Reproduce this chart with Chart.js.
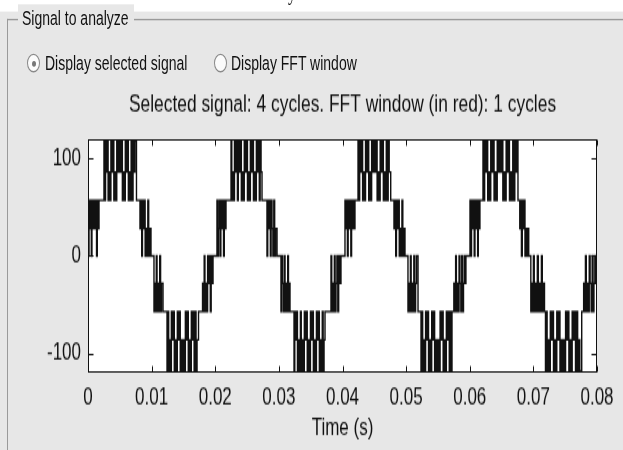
<!DOCTYPE html>
<html>
<head>
<meta charset="utf-8">
<title>Signal to analyze</title>
<script src="https://cdn.jsdelivr.net/npm/chart.js@4.4.1/dist/chart.umd.min.js"></script>
<style>
  html, body { margin: 0; padding: 0; background: #fff; width: 623px; height: 450px; overflow: hidden; }
  /* the screenshot is stretched vertically, so the whole panel is drawn flat and scaled */
  #page { position: absolute; left: 0; top: 0; width: 623px; height: 311px;
          transform: scaleY(1.45); transform-origin: 0 0;
          font-family: Arial, "Liberation Sans", sans-serif; color: #111; }
  #panel { position: absolute; left: 0; top: 8.3px; width: 623px; height: 303px; background: #e7e7e7; }
  .abs { position: absolute; white-space: nowrap; }
  #edgeTop1 { left: 7px; top: 13.3px; width: 11px; border-top: 1px solid #9a9a9a; }
  #edgeTop2 { left: 134px; top: 13.3px; width: 489px; border-top: 1px solid #9a9a9a; }
  #edgeLeft { left: 7px; top: 13.3px; height: 300px; border-left: 1px solid #9a9a9a; }
  #labelBox { left: 18px; top: 2.8px; width: 116px; height: 14px; background: #e7e7e7; }
  #label { left: 22px; top: 2.7px; font-size: 14px; line-height: 18px; }
  .radio { width: 11px; height: 11px; border: 1px solid #8a8a8a; border-radius: 50%; background: #fbfbfb; }
  .dot { left: 3.5px; top: 3.5px; width: 4px; height: 4px; border-radius: 50%; background: #777; }
  .rtext { top: 34.4px; font-size: 14px; line-height: 18px; }
  #cut { left: 288px; top: -12.8px; font: 16px "Liberation Serif", "Times New Roman", serif; line-height: 16px; }
  #chartBox { left: 0; top: 50px; width: 623px; height: 260px; }
</style>
</head>
<body>
<div id="page">
  <div class="abs" id="cut">y</div>
  <div id="panel"></div>
  <div class="abs" id="edgeTop1"></div>
  <div class="abs" id="edgeTop2"></div>
  <div class="abs" id="edgeLeft"></div>
  <div class="abs" id="labelBox"></div>
  <div class="abs" id="label">Signal to analyze</div>

  <div class="abs radio" style="left:27px; top:37.4px;"><div class="abs dot"></div></div>
  <div class="abs rtext" style="left:45px;">Display selected signal</div>
  <div class="abs radio" style="left:214px; top:37.4px;"></div>
  <div class="abs rtext" style="left:231px;">Display FFT window</div>

  <div class="abs" id="chartBox"><canvas id="signal" width="623" height="260"></canvas></div>
</div>

<script>
// tick values and labels
var timeTickValues = [0, 0.01, 0.02, 0.03, 0.04, 0.05, 0.06, 0.07, 0.08];
var timeTickLabels = ['0', '0.01', '0.02', '0.03', '0.04', '0.05', '0.06', '0.07', '0.08'];
var voltTickValues = [-100, 0, 100];
var voltTickLabels = ['-100', '0', '100'];
var titleText = 'Selected signal: 4 cycles. FFT window (in red): 1 cycles';

// switching instants: [time in ms, level after the switch]
var cycle1 = [
  [0, 0], [0.16, 57], [0.28, 28], [0.40, 57], [0.52, 0], [0.62, 57], [0.76, 28], [0.90, 57], [1.04, 28], [1.18, 57], [1.34, 0], [1.46, 57], [1.60, 28], [1.73, 57],
  [2.51, 118], [2.62, 57], [2.76, 118], [2.90, 86], [3.02, 118], [3.16, 57], [3.30, 86], [3.46, 57], [3.60, 118], [3.76, 86], [3.92, 118], [4.06, 57], [4.20, 86], [4.38, 57], [4.52, 118], [4.70, 86], [4.88, 118], [5.06, 86], [5.24, 118], [5.40, 57], [5.56, 86], [5.72, 57], [5.86, 118], [6.02, 86], [6.18, 118], [6.34, 57], [6.48, 86], [6.64, 57], [6.78, 118], [6.94, 57], [7.08, 118], [7.24, 86], [7.38, 118], [7.62, 57],
  [8.17, 28], [8.30, 57], [8.44, 0], [8.56, 57], [8.70, 28], [8.84, 57], [8.98, 0], [9.12, 28], [9.26, 0], [9.40, 57], [9.54, 0], [9.68, 28], [9.90, 0],
  [10.37, -57], [10.49, -28], [10.61, -57], [10.73, 0], [10.85, -57], [10.99, -28], [11.13, -57], [11.27, 0], [11.41, -57], [11.55, -28], [11.79, -57],
  [12.42, -118], [12.54, -57], [12.68, -118], [12.82, -86], [12.96, -118], [13.10, -57], [13.26, -86], [13.42, -57], [13.56, -118], [13.72, -86], [13.88, -118], [14.04, -57], [14.18, -86], [14.34, -57], [14.50, -118], [14.66, -86], [14.82, -118], [14.98, -86], [15.14, -118], [15.30, -57], [15.46, -86], [15.62, -57], [15.76, -118], [15.92, -86], [16.08, -118], [16.24, -57], [16.38, -86], [16.54, -57], [16.68, -118], [16.84, -57], [16.98, -118], [17.14, -86], [17.37, -57],
  [18.00, -28], [18.12, -57], [18.26, 0], [18.38, -57], [18.52, -28], [18.66, -57], [18.80, 0], [18.94, -28], [19.08, 0], [19.22, -57], [19.36, 0], [19.50, -28], [19.65, 0]
];
var cycle2 = [
  [20.27, 57], [20.39, 0], [20.50, 28], [20.62, 57], [20.76, 0], [20.88, 57], [21.02, 28], [21.16, 57], [21.30, 0], [21.42, 57], [21.56, 28], [21.69, 57],
  [22.48, 118], [22.60, 57], [22.74, 86], [22.88, 57], [23.02, 118], [23.18, 86], [23.34, 118], [23.48, 57], [23.62, 118], [23.78, 86], [23.94, 118], [24.10, 57], [24.24, 86], [24.40, 57], [24.56, 118], [24.72, 86], [24.90, 118], [25.06, 57], [25.20, 86], [25.36, 57], [25.52, 118], [25.68, 86], [25.84, 118], [26.00, 57], [26.14, 86], [26.30, 57], [26.46, 118], [26.62, 86], [26.78, 118], [26.92, 57], [27.06, 118], [27.20, 86], [27.35, 57],
  [28.13, 0], [28.25, 57], [28.38, 28], [28.52, 57], [28.66, 0], [28.78, 57], [28.92, 28], [29.06, 0], [29.20, 57], [29.34, 0], [29.48, 28], [29.71, 0],
  [30.33, -57], [30.45, 0], [30.57, -28], [30.71, -57], [30.85, 0], [30.97, -57], [31.11, -28], [31.25, -57], [31.39, 0], [31.51, -57], [31.63, -28], [31.75, -57],
  [32.38, -118], [32.50, -57], [32.64, -86], [32.78, -57], [32.92, -118], [33.08, -86], [33.24, -118], [33.38, -57], [33.52, -118], [33.68, -86], [33.84, -118], [34.00, -57], [34.14, -86], [34.30, -57], [34.46, -118], [34.62, -86], [34.80, -118], [34.96, -57], [35.10, -86], [35.26, -57], [35.42, -118], [35.58, -86], [35.74, -118], [35.90, -57], [36.04, -86], [36.20, -57], [36.36, -118], [36.52, -86], [36.68, -118], [36.82, -57], [36.96, -118], [37.10, -86], [37.25, -57],
  [38.19, 0], [38.31, -57], [38.44, -28], [38.58, -57], [38.72, 0], [38.84, -57], [38.98, -28], [39.12, 0], [39.26, -57], [39.40, 0], [39.54, -28], [39.76, 0]
];
var cycle3 = [
  [40.39, 57], [40.51, 28], [40.63, 57], [40.77, 0], [40.89, 57], [41.03, 28], [41.17, 57], [41.31, 0], [41.43, 57], [41.57, 28], [41.71, 57], [41.84, 28], [41.96, 57],
  [42.44, 118], [42.56, 57], [42.70, 118], [42.86, 86], [43.02, 118], [43.16, 57], [43.30, 86], [43.46, 57], [43.62, 118], [43.78, 86], [43.96, 118], [44.12, 57], [44.26, 86], [44.42, 57], [44.58, 118], [44.76, 86], [44.94, 118], [45.10, 86], [45.28, 118], [45.44, 57], [45.60, 86], [45.76, 57], [45.92, 118], [46.08, 86], [46.26, 118], [46.42, 57], [46.56, 86], [46.72, 57], [46.88, 118], [47.04, 57], [47.18, 118], [47.34, 86], [47.58, 57],
  [48.09, 28], [48.22, 57], [48.36, 0], [48.48, 57], [48.62, 28], [48.78, 57], [48.92, 0], [49.06, 28], [49.20, 0], [49.34, 57], [49.48, 0], [49.62, 28], [49.82, 0],
  [50.29, -57], [50.41, -28], [50.53, -57], [50.67, 0], [50.79, -57], [50.93, -28], [51.07, -57], [51.21, 0], [51.35, -57], [51.49, -28], [51.63, 0], [51.87, -57],
  [52.34, -118], [52.46, -57], [52.60, -118], [52.76, -86], [52.92, -118], [53.06, -57], [53.20, -86], [53.36, -57], [53.52, -118], [53.68, -86], [53.86, -118], [54.02, -57], [54.16, -86], [54.32, -57], [54.48, -118], [54.66, -86], [54.84, -118], [55.00, -86], [55.18, -118], [55.34, -57], [55.50, -86], [55.66, -57], [55.82, -118], [55.98, -86], [56.16, -118], [56.32, -57], [56.46, -86], [56.62, -57], [56.78, -118], [56.94, -57], [57.08, -118], [57.21, -57],
  [57.50, -28], [57.64, -57], [57.78, 0], [57.90, -57], [58.04, -28], [58.18, -57], [58.32, 0], [58.46, -28], [58.60, -57], [58.74, 0], [58.88, -57], [59.02, -28], [59.16, 0], [59.28, -28], [59.40, 0]
];
var cycle4 = [
  [60.04, 57], [60.16, 0], [60.28, 57], [60.42, 28], [60.56, 57], [60.70, 0], [60.82, 57], [60.96, 28], [61.10, 57], [61.24, 0], [61.34, 57], [61.45, 28], [61.60, 57],
  [62.08, 118], [62.20, 57], [62.34, 118], [62.50, 86], [62.66, 118], [62.82, 57], [62.98, 86], [63.14, 57], [63.30, 118], [63.48, 86], [63.66, 118], [63.82, 57], [63.98, 86], [64.14, 57], [64.32, 118], [64.50, 86], [64.68, 118], [64.86, 86], [65.04, 118], [65.20, 57], [65.38, 86], [65.54, 57], [65.72, 118], [65.90, 86], [66.08, 118], [66.24, 57], [66.40, 86], [66.58, 57], [66.76, 118], [66.92, 57], [67.08, 118], [67.26, 86], [67.42, 118], [67.58, 57],
  [67.86, 28], [67.98, 57], [68.12, 0], [68.26, 57], [68.40, 28], [68.54, 57], [68.68, 0], [68.82, 28], [68.96, 0], [69.10, 28], [69.27, 0],
  [69.60, -57], [69.72, -28], [69.86, -57], [70.00, 0], [70.14, -57], [70.30, -28], [70.46, -57], [70.62, 0], [70.78, -57], [70.94, -28], [71.10, -57], [71.26, 0], [71.40, -57], [71.60, -28], [71.75, -57],
  [71.90, -118], [72.02, -57], [72.16, -118], [72.32, -86], [72.50, -118], [72.66, -57], [72.82, -86], [72.98, -57], [73.16, -118], [73.34, -86], [73.52, -118], [73.68, -57], [73.84, -86], [74.00, -57], [74.18, -118], [74.36, -86], [74.54, -118], [74.72, -86], [74.90, -118], [75.06, -57], [75.24, -86], [75.40, -57], [75.58, -118], [75.76, -86], [75.94, -118], [76.10, -57], [76.26, -86], [76.44, -57], [76.62, -118], [76.80, -57], [76.96, -118], [77.14, -86], [77.30, -118], [77.60, -57],
  [77.90, -28], [78.04, -57], [78.18, 0], [78.32, -57], [78.46, -28], [78.62, -57], [78.78, 0], [78.92, -28], [79.08, -57], [79.24, 0], [79.38, -57], [79.52, -28], [79.66, 0], [79.80, -28], [80, 0]
];

var fontFamily = 'Arial, "Liberation Sans", sans-serif';

// white plot box, black frame and MATLAB style inward ticks
var axesFrame = {
  id: 'axesFrame',
  beforeDatasetsDraw: function (chart) {
    var a = chart.chartArea, ctx = chart.ctx;
    ctx.save();
    ctx.fillStyle = '#fff';
    ctx.fillRect(a.left, a.top, a.right - a.left, a.bottom - a.top);
    ctx.restore();
  },
  afterDatasetsDraw: function (chart) {
    var a = chart.chartArea, ctx = chart.ctx, x = chart.scales.x, y = chart.scales.y;
    var l = Math.round(a.left) + 0.5, r = Math.round(a.right) - 0.5, t = Math.round(a.top) + 0.5, b = Math.round(a.bottom) - 0.5;
    ctx.save();
    ctx.strokeStyle = '#111';
    ctx.lineWidth = 1;
    ctx.strokeRect(l, t, r - l, b - t);
    ctx.beginPath();
    timeTickValues.forEach(function (v) {
      var px = Math.round(x.getPixelForValue(v)) + 0.5;
      ctx.moveTo(px, b); ctx.lineTo(px, b - 4);
      ctx.moveTo(px, t); ctx.lineTo(px, t + 4);
    });
    voltTickValues.forEach(function (v) {
      var py = Math.round(y.getPixelForValue(v)) + 0.5;
      ctx.moveTo(l, py); ctx.lineTo(l + 5, py);
      ctx.moveTo(r, py); ctx.lineTo(r - 5, py);
    });
    ctx.stroke();
    ctx.restore();
  }
};

var points = cycle1.concat(cycle2, cycle3, cycle4).map(function (p) {
  return { x: p[0] / 1000, y: p[1] };
});

var ctx = document.getElementById('signal').getContext('2d');
var signalChart = new Chart(ctx, {
  type: 'line',
  data: {
    datasets: [{
      label: 'Selected signal',
      data: points,
      stepped: 'before',
      borderColor: '#111',
      borderWidth: 1.4,
      pointRadius: 0,
      fill: false
    }]
  },
  options: {
    responsive: false,
    animation: false,
    devicePixelRatio: 1,
    layout: { padding: { left: 0, right: 26, top: 0, bottom: 0 } },
    plugins: {
      legend: { display: false },
      tooltip: { enabled: false },
      title: {
        display: true,
        fullSize: false, // centre the title over the plot box, as in the screenshot
        text: titleText,
        color: '#111',
        font: { family: fontFamily, size: 17.4, weight: 'normal' },
        padding: { top: 12.2, bottom: 13.3 }
      }
    },
    scales: {
      x: {
        type: 'linear',
        min: 0,
        max: 0.08,
        grid: { display: false, drawTicks: false },
        border: { display: false },
        afterBuildTicks: function (s) { s.ticks = timeTickValues.map(function (v) { return { value: v }; }); },
        afterFit: function (s) { s.height = 53.4; },
        ticks: {
          padding: 7.7,
          autoSkip: false,
          maxRotation: 0,
          color: '#111',
          font: { family: fontFamily, size: 17 },
          callback: function (v, i) { return timeTickLabels[i]; }
        },
        title: {
          display: true,
          text: 'Time (s)',
          color: '#111',
          font: { family: fontFamily, size: 17 },
          padding: { top: 0, bottom: 4.6 }
        }
      },
      y: {
        type: 'linear',
        min: -119,
        max: 119,
        grid: { display: false, drawTicks: false },
        border: { display: false },
        afterBuildTicks: function (s) { s.ticks = voltTickValues.map(function (v) { return { value: v }; }); },
        afterFit: function (s) { s.width = 88; },
        ticks: {
          padding: 7,
          color: '#111',
          font: { family: fontFamily, size: 17 },
          callback: function (v, i) { return voltTickLabels[i]; }
        }
      }
    }
  },
  plugins: [axesFrame]
});
</script>
</body>
</html>
